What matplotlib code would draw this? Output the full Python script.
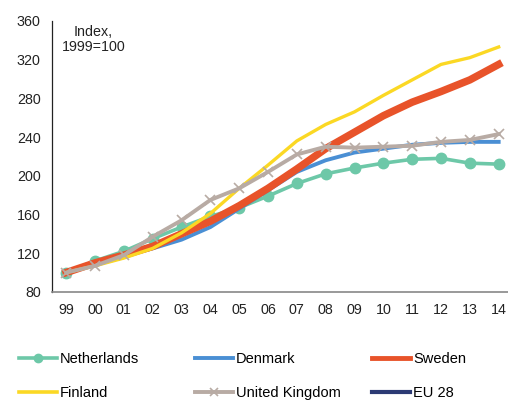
import numpy as np
import matplotlib
matplotlib.use('Agg')
import matplotlib.pyplot as plt
from matplotlib.lines import Line2D

plt.rcParams['font.family'] = ['Liberation Sans', 'DejaVu Sans']

years = ['99', '00', '01', '02', '03', '04', '05', '06', '07', '08',
         '09', '10', '11', '12', '13', '14']

netherlands = [100, 112, 122, 135, 147, 158, 167, 179, 192, 202, 208, 213, 217, 218, 213, 212]
denmark = [100, 108, 117, 125, 134, 147, 166, 185, 204, 216, 224, 228, 232, 234, 235, 235]
sweden = [100, 110, 118, 127, 140, 153, 169, 187, 207, 228, 245, 262, 276, 287, 299, 315]
finland = [100, 107, 115, 125, 141, 161, 187, 211, 236, 253, 266, 283, 299, 315, 322, 333]
uk = [100, 107, 118, 137, 154, 175, 187, 204, 222, 230, 229, 230, 231, 235, 237, 243]

fig = plt.figure(figsize=(5.08, 4.01), dpi=100)
ax = fig.add_axes([0.102, 0.272, 0.908, 0.676])

x = np.arange(len(years))
ax.plot(x, netherlands, color='#6dc8a8', lw=2.6, marker='o', ms=7.5, zorder=2)
ax.plot(x, denmark, color='#4a8fd4', lw=2.8, zorder=3)
ax.plot(x, sweden, color='#e8532a', lw=5.4, zorder=4)
ax.plot(x, finland, color='#fbd824', lw=2.4, zorder=5)
ax.plot(x, uk, color='#b8aba4', lw=2.8, marker='x', ms=7, mew=1.2, zorder=6)

ax.set_xlim(-0.5, len(years) - 0.5)
ax.set_ylim(80, 360)
ax.set_yticks(np.arange(80, 361, 40))
ax.set_xticks(x)
ax.set_xticklabels(years)
ax.tick_params(axis='both', length=0, labelsize=10.3, colors='#222222')
ax.tick_params(axis='y', pad=8)
ax.tick_params(axis='x', pad=8)
for s in ['top', 'right']:
    ax.spines[s].set_visible(False)
ax.spines['left'].set_color('#222222')
ax.spines['left'].set_linewidth(0.9)
ax.spines['bottom'].set_color('#888888')
ax.spines['bottom'].set_linewidth(1.2)

ax.text(0.09, 0.985, 'Index,\n1999=100', transform=ax.transAxes, ha='center',
        va='top', fontsize=10.3, color='#222222', linespacing=1.1)

cols = [
    [('Netherlands', dict(color='#6dc8a8', lw=2.6, marker='o', ms=6)),
     ('Finland', dict(color='#fbd824', lw=2.6))],
    [('Denmark', dict(color='#4a8fd4', lw=2.8)),
     ('United Kingdom', dict(color='#b8aba4', lw=2.8, marker='x', ms=6, mew=1.2))],
    [('Sweden', dict(color='#e8532a', lw=3.5)),
     ('EU 28', dict(color='#2c3a74', lw=3.0))],
]
xpos = [0.028, 0.376, 0.724]
for xp, col in zip(xpos, cols):
    handles = [Line2D([], [], **kw) for _, kw in col]
    labels = [lab for lab, _ in col]
    fig.legend(handles, labels, loc='upper left', bbox_to_anchor=(xp, 0.133),
               frameon=False, fontsize=10.5, handlelength=2.6, handletextpad=0.2,
               labelspacing=1.4, borderaxespad=0, borderpad=0.3)

fig.savefig('out.png', dpi=100)
